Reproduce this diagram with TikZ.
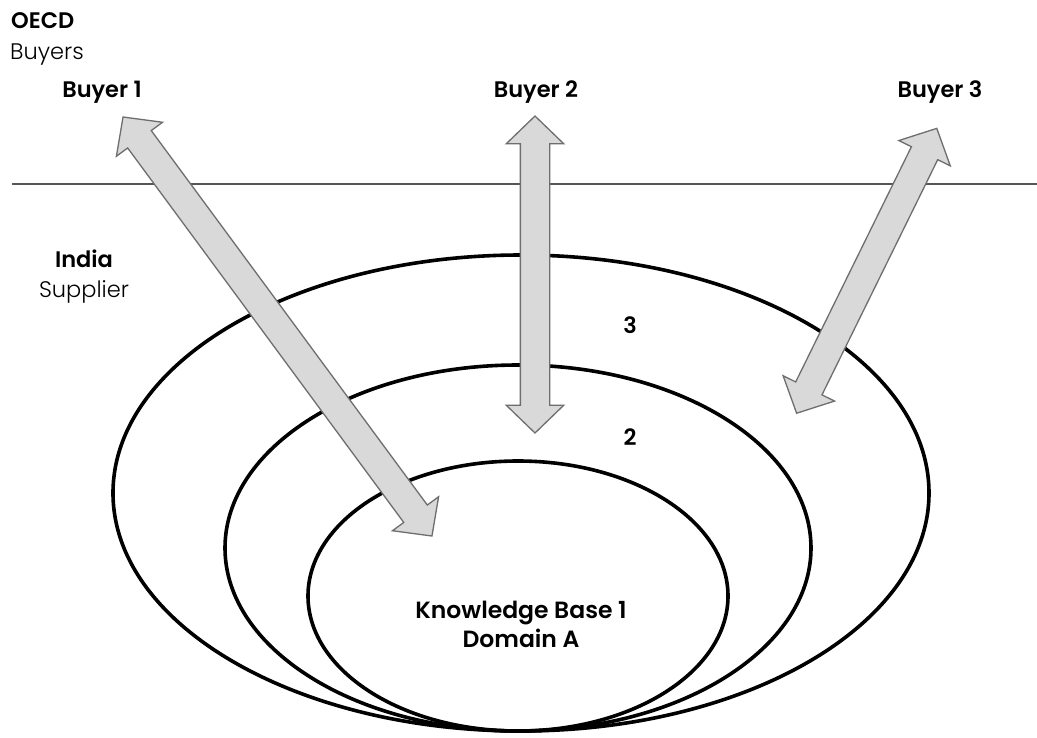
\documentclass[tikz,border=0pt]{standalone}
\usepackage{fontspec}
\setmainfont{Poppins}[UprightFont={* Light}, BoldFont={* SemiBold}]
\usetikzlibrary{shapes.arrows}
\definecolor{arrowfill}{HTML}{D9D9D9}
\definecolor{arrowline}{HTML}{6E6E6E}
\definecolor{sepline}{HTML}{555555}
\newcommand{\shaftstrut}{\rule[-14pt]{0pt}{28pt}}
\tikzset{
  ring/.style={draw=black, line width=3.6pt},
  barrow/.style={double arrow, draw=arrowline, fill=arrowfill, line width=1.3pt,
    minimum width=56pt, double arrow head extend=14pt, double arrow tip angle=92,
    inner sep=0pt, outer sep=0pt},
  lbl/.style={inner sep=0pt, anchor=base, font=\fontsize{22.5}{26}\selectfont\bfseries},
  lightlbl/.style={inner sep=0pt, anchor=base, font=\fontsize{22.5}{26}\selectfont},
}
\begin{document}
\begin{tikzpicture}[x=1pt,y=-1pt]
\useasboundingbox[fill=white] (0,0) rectangle (1037,737);
% separator line
\coordinate (lineL) at (12,184);
\coordinate (lineR) at (1037,184);
\draw[sepline, line width=2pt] (lineL) -- (lineR);
% nested rings
\draw[ring] (521,493) ellipse [x radius=408pt, y radius=238pt];
\draw[ring] (518,548) ellipse [x radius=293pt, y radius=183pt];
\draw[ring] (518,596) ellipse [x radius=210pt, y radius=135pt];
% arrows
\node[barrow, minimum height=520.6pt, rotate=126.4] (arr1) at (277.5,326.5) {\shaftstrut};
\node[barrow, minimum height=317pt, rotate=90] (arr2) at (535,274.5) {\shaftstrut};
\node[barrow, minimum height=317.5pt, rotate=63.8] (arr3) at (866.7,270.8) {\shaftstrut};
% labels
\node[lbl, anchor=base west] (oecd) at (11,28) {OECD};
\node[lightlbl, anchor=base west] (buyers) at (10,59) {Buyers};
\node[lbl] (b1) at (102,97) {Buyer 1};
\node[lbl] (b2) at (536,97) {Buyer 2};
\node[lbl] (b3) at (940,97) {Buyer 3};
\node[lbl] (india) at (84,267) {India};
\node[lightlbl] (supplier) at (84,297) {Supplier};
\node[lbl] (n3) at (630,333) {3};
\node[lbl] (n2) at (630,445) {2};
\node[lbl, font=\fontsize{23.5}{27}\selectfont\bfseries] (kb) at (521,618) {Knowledge Base 1};
\node[lbl, font=\fontsize{23.5}{27}\selectfont\bfseries] (dom) at (521,647) {Domain A};
\end{tikzpicture}
\end{document}
